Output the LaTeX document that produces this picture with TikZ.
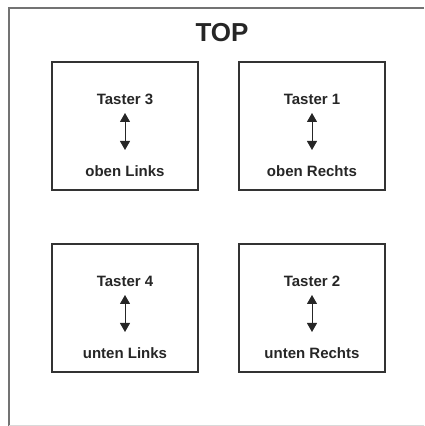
\documentclass[tikz,border=0pt]{standalone}
\usepackage{fontspec}
\setmainfont{Liberation Sans}
\usetikzlibrary{arrows.meta, positioning}

\begin{document}
\begin{tikzpicture}[x=1pt, y=1pt,
    tasterbox/.style={draw=black!80, line width=1.4pt, minimum width=146pt, minimum height=128pt, inner sep=0pt},
    tastertext/.style={font=\bfseries\fontsize{15}{17}\selectfont, text=black!85, inner sep=0pt},
    updown/.style={{Triangle[length=9pt,width=10pt]}-{Triangle[length=9pt,width=10pt]}, line width=0.9pt, black!85}]
    \useasboundingbox (0,0) rectangle (424,426);
    \draw[black!55, line width=2pt] (424,418) -- (9,418) -- (9,0);
    \draw[black!15, line width=1pt] (9,0.5) -- (424,0.5);
    \node[font=\bfseries\fontsize{26}{30}\selectfont, text=black!85] (top) at (222,393) {TOP};
    \foreach \name/\x/\y/\num/\pos in {t3/125/300/3/oben Links, t1/312/300/1/oben Rechts,
        t4/125/118/4/unten Links, t2/312/118/2/unten Rechts} {
        \node[tasterbox] (\name) at (\x,\y) {};
        \node[tastertext] (\name-num) at ([yshift=27pt]\name.center) {Taster \num};
        \node[tastertext] (\name-pos) at ([yshift=-45pt]\name.center) {\pos};
        \coordinate (\name-a) at ([yshift=13pt]\name.center);
        \coordinate (\name-b) at ([yshift=-24pt]\name.center);
        \draw[updown] (\name-a) -- (\name-b);
    }
\end{tikzpicture}
\end{document}
